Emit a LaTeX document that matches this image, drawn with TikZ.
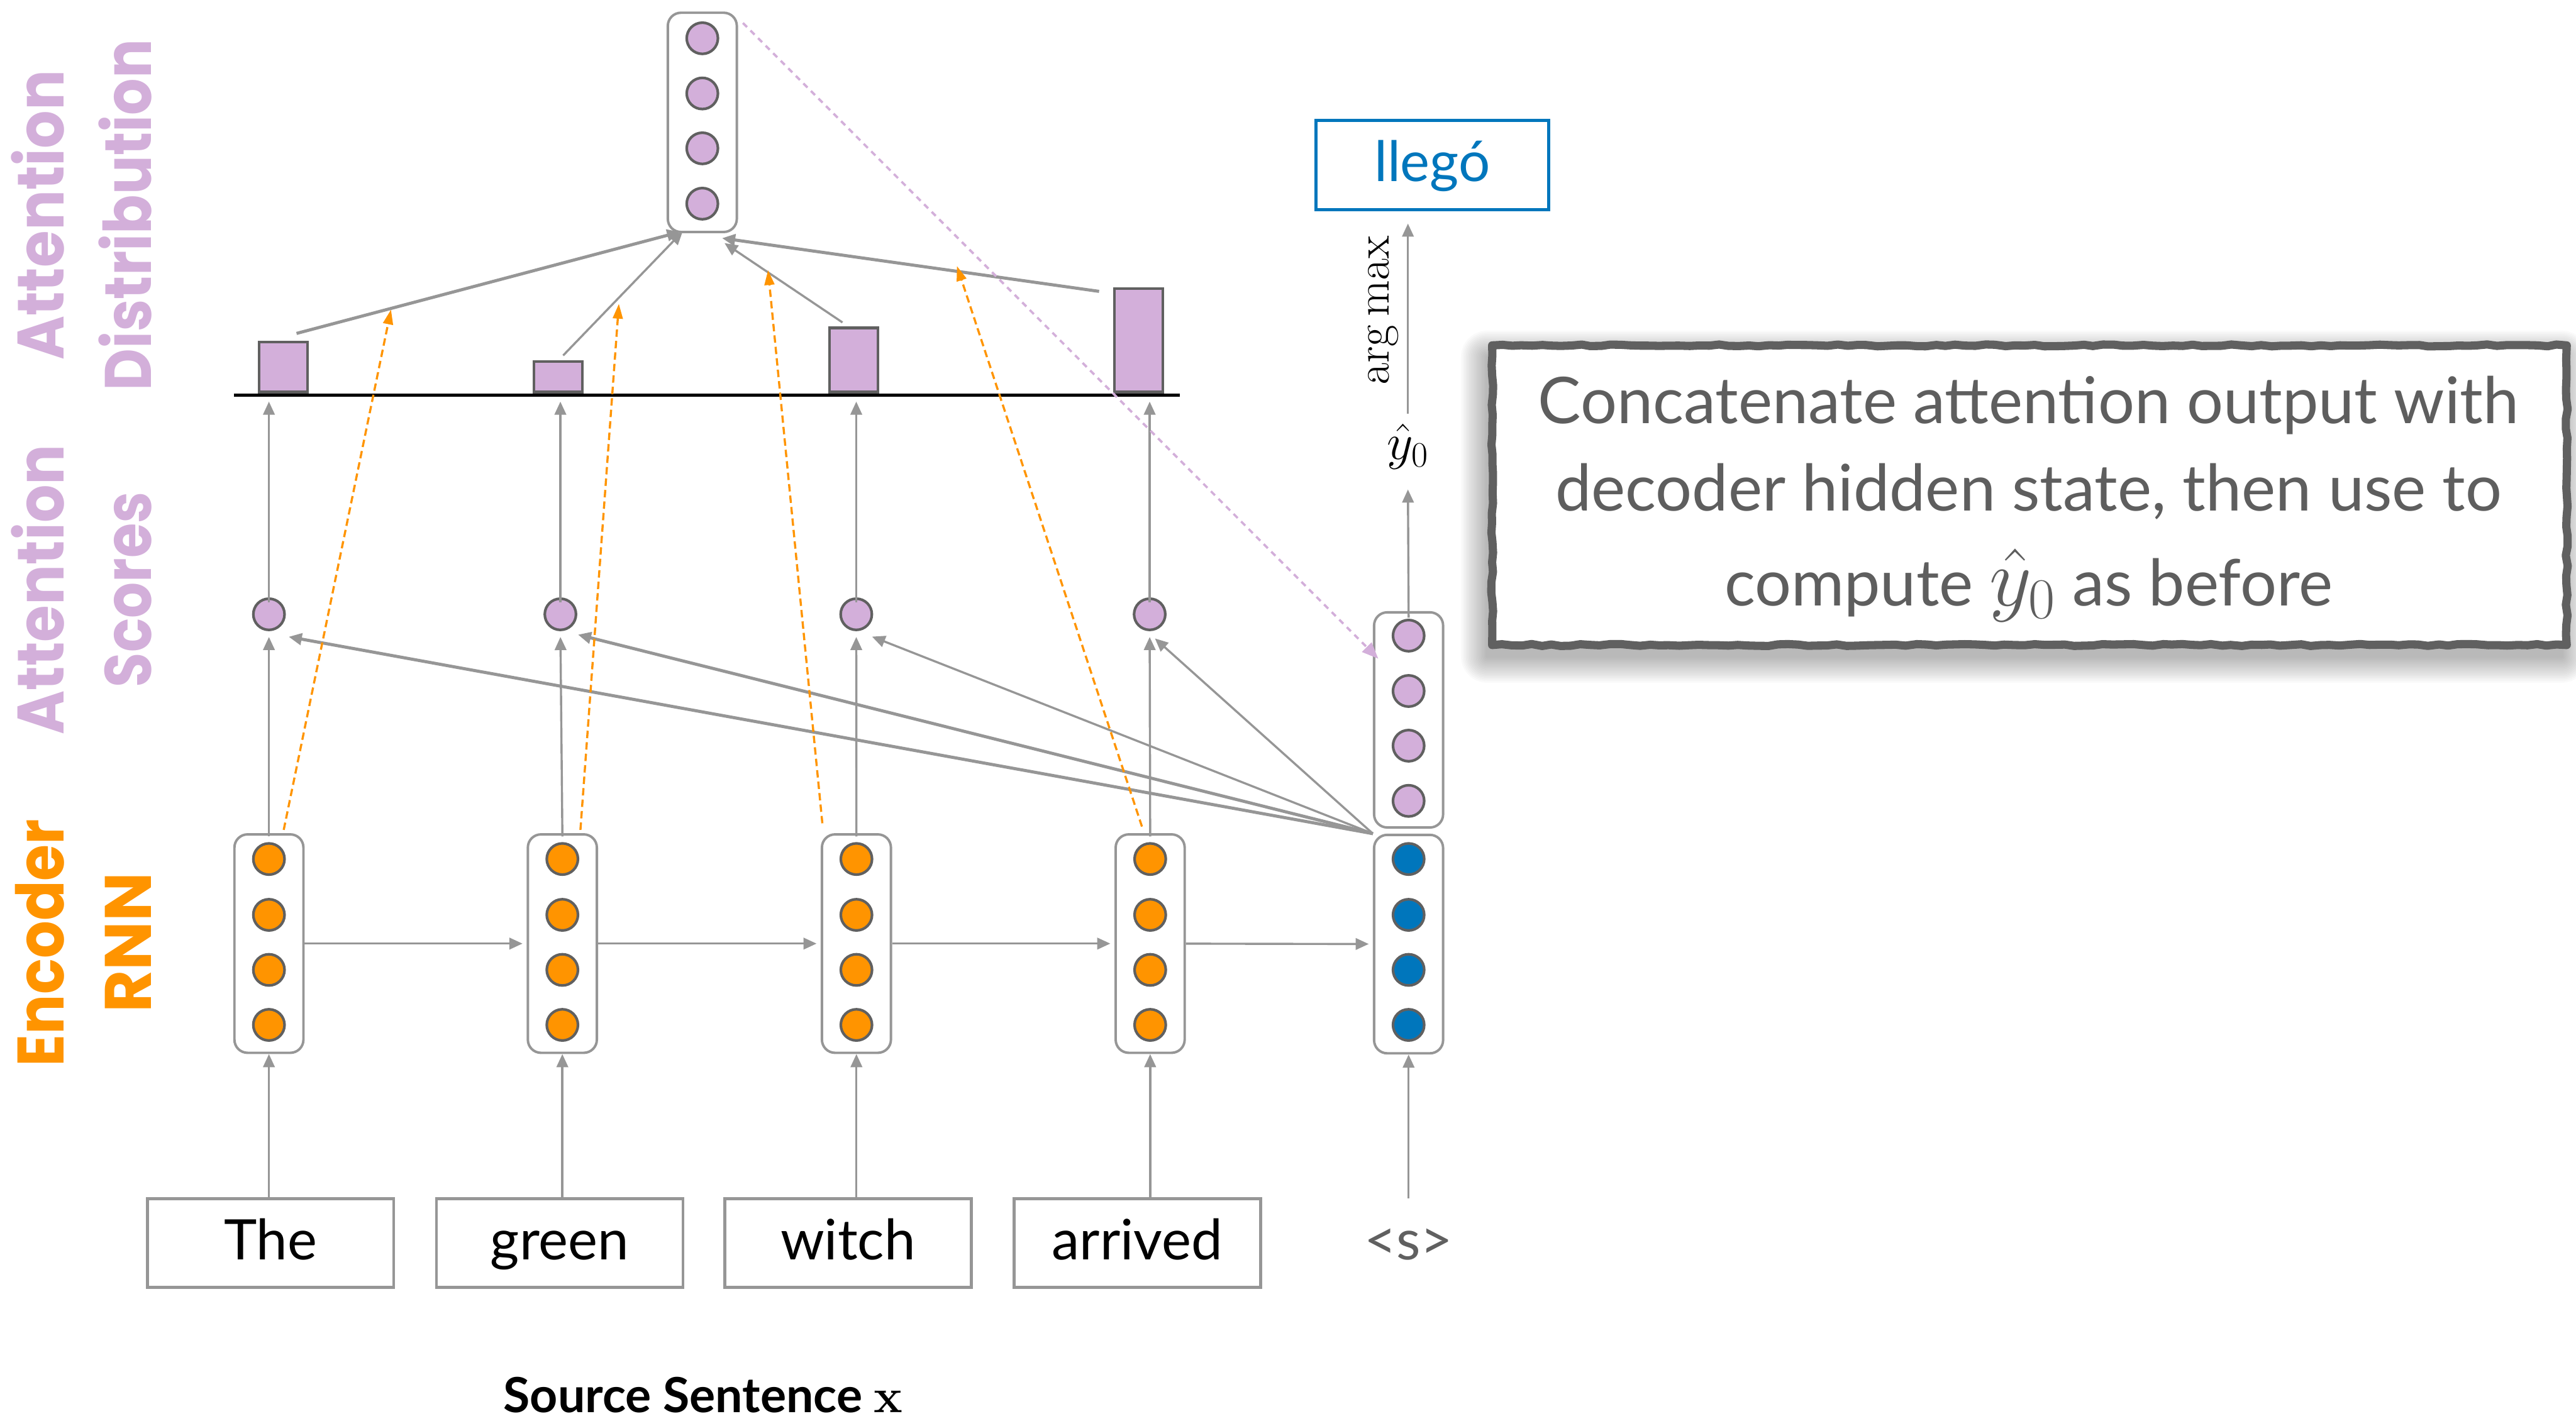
\RequirePackage{fix-cm}
\documentclass[tikz,border=0pt]{standalone}
\usepackage{graphicx}
\usepackage[no-math]{fontspec}
\setmainfont{Lato}
\newfontfamily\lblfont{Poppins}
\usetikzlibrary{arrows.meta,calc,decorations.pathmorphing}
\definecolor{purp}{HTML}{D3AFDA}
\definecolor{orng}{HTML}{FF9400}
\definecolor{blu}{HTML}{0076BC}
\definecolor{lgray}{HTML}{969696}
\definecolor{dgray}{HTML}{606060}
\definecolor{tgray}{HTML}{5E5E5E}
\tikzset{
  vec/.style={draw=lgray, line width=1.5pt, rounded corners=8pt, minimum width=42pt,
    minimum height=133pt, inner sep=0pt},
  unit/.style={circle, draw=dgray, line width=1.6pt, minimum size=19pt, inner sep=0pt},
  arr/.style={draw=lgray, line width=1.3pt, -{Triangle[length=8pt,width=7pt]}},
  warr/.style={arr, line width=1.9pt},
  oarr/.style={draw=orng, line width=1.3pt, dash pattern=on 4.5pt off 2.5pt,
    -{Triangle[length=9pt,width=6pt]}},
  parr/.style={draw=purp, line width=1.4pt, dash pattern=on 3.5pt off 3pt,
    -{Triangle[length=10pt,width=8pt]}},
  bar/.style={draw=dgray, fill=purp, line width=1.6pt, minimum width=29.5pt,
    inner sep=0pt, anchor=south},
  word/.style={draw=lgray, line width=1.7pt, minimum width=150pt, minimum height=54pt,
    inner sep=0pt, text height=25pt, text depth=5pt, font=\fontsize{34}{40}\selectfont},
  side/.style={rotate=90, anchor=base, inner sep=0pt,
    font=\lblfont\bfseries\fontsize{40}{48}\selectfont},
  ctext/.style={anchor=base, inner sep=0pt, text=tgray, font=\fontsize{39.2}{46}\selectfont},
}
\begin{document}
\begin{tikzpicture}[x=1pt,y=-1pt]
\useasboundingbox (0,0) rectangle (1568,868);

% side labels
\node[side, text=purp] (l1a) at (39,131) {\scalebox{0.91}[1]{Attention}};
\node[side, text=purp] (l1b) at (92,131) {\scalebox{0.88}[1]{Distribution}};
\node[side, text=purp] (l2a) at (39,359) {\scalebox{0.91}[1]{Attention}};
\node[side, text=purp] (l2b) at (92,359) {\scalebox{0.86}[1]{Scores}};
\node[side, text=orng] (l3a) at (39,574) {\scalebox{0.90}[1]{Encoder}};
\node[side, text=orng] (l3b) at (92,574) {\scalebox{0.99}[1]{RNN}};

% encoder hidden states
\foreach \n/\x in {1/163.7, 2/342.3, 3/521.3, 4/700.1} {
  \node[vec] (e\n) at (\x,574.5) {};
  \foreach \m/\y in {1/523, 2/557, 3/590.5, 4/624}
    \node[unit, fill=orng] (e\n-\m) at (\x,\y) {};
}

% decoder: hidden state and attention output stacked
\node[vec] (dl) at (857.4,574.8) {};
\foreach \m/\y in {1/523, 2/557, 3/590.5, 4/624}
  \node[unit, fill=blu] (dl-\m) at (857.4,\y) {};
\node[vec, minimum height=131pt] (du) at (857.4,438.3) {};
\foreach \m/\y in {1/387, 2/420.7, 3/454, 4/487.6}
  \node[unit, fill=purp] (du-\m) at (857.4,\y) {};

% attention output vector
\node[vec, minimum height=133.5pt] (att) at (427.5,74.5) {};
\foreach \m/\y in {1/23.3, 2/56.9, 3/90.3, 4/124}
  \node[unit, fill=purp] (att-\m) at (427.5,\y) {};

% attention scores
\foreach \n/\x in {1/163.7, 2/341.1, 3/521.2, 4/699.8}
  \node[unit, fill=purp] (s\n) at (\x,374) {};

% distribution axis and bars
\coordinate (axl) at (142.5,240.5);
\coordinate (axr) at (718,240.5);
\draw[line width=1.8pt] (axl) -- (axr);
\node[bar, minimum height=30.4pt] (b1) at (172.5,239.5) {};
\node[bar, minimum height=18.5pt] (b2) at (339.8,239.5) {};
\node[bar, minimum height=39.1pt] (b3) at (519.8,239.5) {};
\node[bar, minimum height=63.1pt] (b4) at (693,239.5) {};

% source words
\node[word] (w1) at (164.7,756.8) {The};
\node[word] (w2) at (340.7,756.8) {green};
\node[word] (w3) at (516.2,756.8) {witch};
\node[word] (w4) at (692.3,756.8) {arrived};
\node[minimum height=54pt, inner sep=0pt, text height=25pt, text depth=5pt,
  text=dgray, font=\fontsize{34}{40}\selectfont] (sos) at (857.4,756.8) {<s>};

% output word
\node[draw=blu, line width=2pt, minimum width=141.6pt, minimum height=54.4pt,
  inner sep=0pt, text height=25pt, text depth=5pt, text=blu,
  font=\fontsize{34}{40}\selectfont] (llg) at (871.8,100.4) {llegó};

\node[font=\fontsize{31}{34}\selectfont] (yh) at (857,272) {$\hat{y}_0$};
\node[rotate=90, font=\fontsize{28.6}{32}\selectfont] (am) at (842,189) {$\arg\max$};

% inputs into the recurrent states
\foreach \n in {1,...,4}
  \draw[arr] (e\n |- w\n.north) -- (e\n.south);
\draw[arr] (sos.north) -- (dl.south);

% recurrence
\draw[arr, shorten >=2.5pt] (e1) -- (e2);
\draw[arr, shorten >=2.5pt] (e2) -- (e3);
\draw[arr, shorten >=2.5pt] (e3) -- (e4);
\draw[arr, shorten >=2.5pt] (e4) -- (dl);

% encoder states to scores, scores to distribution
\foreach \n in {1,...,4} {
  \draw[arr, shorten <=-2pt, shorten >=3.5pt] (e\n.north) -- (s\n.south);
  \draw[arr, shorten <=-3pt] (s\n.north) -- ($(s\n |- axl)+(0,4)$);
}

% decoder state compared with every encoder state
\draw[warr] (dl.north west) -- ($(s1)+(12,13.7)$);
\draw[warr] (dl.north west) -- ($(s2)+(10.7,12.4)$);
\draw[arr] (dl.north west) -- ($(s3)+(9.6,13.6)$);
\draw[arr] (dl.north west) -- ($(s4)+(3.2,14.7)$);

% weighted sum into the attention output
\draw[warr] ($(b1.north)+(8,-4.5)$) -- ($(att.south)+(-13.5,-0.8)$);
\draw[arr] ($(b2.north)+(3,-3)$) -- ($(att.south)+(-12,-1)$);
\draw[arr] ($(b3.north)+(-7,-2.5)$) -- ($(att.south)+(13.5,6)$);
\draw[warr] ($(b4.north)+(-24,2.6)$) -- ($(att.south)+(12,3)$);

% encoder states feeding the weighted sum
\coordinate (o1) at (238,188.5);
\coordinate (o2) at (376.7,185);
\coordinate (o3) at (467.5,164.5);
\coordinate (o4) at (582.5,162);
\draw[oarr] ($(e1.north)+(9,-2)$) -- (o1);
\draw[oarr] ($(e2.north)+(11,-2)$) -- (o2);
\draw[oarr] ($(e3.north west)+(1,-6)$) -- (o3);
\draw[oarr] ($(e4.north)+(-5,-4)$) -- (o4);

% attention output copied next to the decoder state
\draw[parr] ($(att.north east)+(3,7)$) -- ($(du.north west)+(3.3,29)$);

% prediction
\draw[arr, shorten <=-4pt] (du.north) -- ($(yh.center)+(0,26)$);
\draw[arr] ($(yh.center)+(0,-20)$) -- ($(yh.center |- llg.south)+(0,7.5)$);

% caption
\node[font=\bfseries\fontsize{29.5}{35}\selectfont, anchor=base] (src) at (428,860)
  {Source Sentence $\mathbf{x}$};

% note box with soft shadow and rough border
\path node[minimum width=653.7pt, minimum height=182pt, inner sep=0pt] (cb) at (1235.3,301.5) {};
\foreach \k in {1,...,16}
  \fill[black, opacity=0.02, rounded corners=\k pt]
    ($(cb.north west)+(-3-\k,7-\k)$) rectangle ($(cb.south east)+(-3+\k,7+\k)$);
\pgfmathsetseed{7}
\draw[decorate, decoration={random steps, segment length=6pt, amplitude=0.6pt},
  line width=5pt, draw=dgray, fill=white, line join=round]
  (cb.north west) rectangle (cb.south east);
\node[ctext] (c1) at (1234.8,258) {Concatenate attention output with};
\node[ctext] (c2) at (1234.8,311) {decoder hidden state, then use to};
\node[ctext] (c3) at (1234.8,369) {compute {\fontsize{50}{52}\selectfont$\hat{y}_0$} as before};
\end{tikzpicture}
\end{document}
